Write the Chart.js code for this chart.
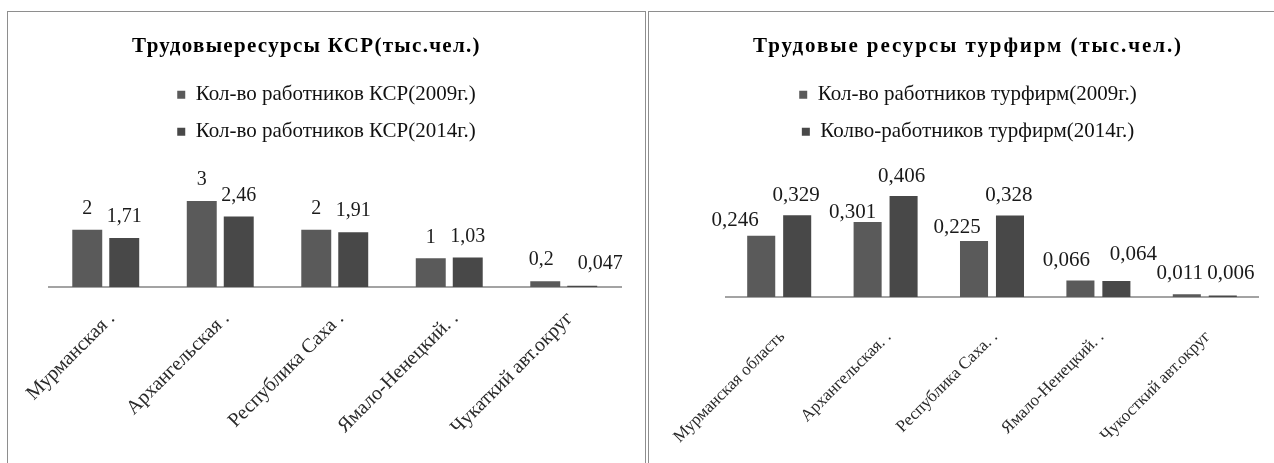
<!DOCTYPE html>
<html lang="ru">
<head>
<meta charset="utf-8">
<title>Трудовые ресурсы</title>
<script src="https://cdn.jsdelivr.net/npm/chart.js@4.4.1/dist/chart.umd.min.js"></script>
<style>
  html, body { margin: 0; padding: 0; background: #fff; overflow: hidden; }
  body { width: 1274px; height: 463px; position: relative; }
  .frame { position: absolute; border: 1.5px solid #8e8e8e; box-sizing: border-box; }
  .holder { position: absolute; }
</style>
</head>
<body>
<div class="frame" style="left:7px;top:11px;width:639px;height:480px;"></div>
<div class="frame" style="left:648px;top:11px;width:660px;height:480px;"></div>
<div class="holder" style="left:8px;top:12px;width:637px;height:452px;"><canvas id="ksr"></canvas></div>
<div class="holder" style="left:649px;top:12px;width:638px;height:452px;"><canvas id="tour"></canvas></div>
<script>
// Регионы (подписи оси X)
const ksrRegions = ['Мурманская .', 'Архангельская .', 'Республика Саха .', 'Ямало-Ненецкий. .', 'Чукаткий авт.округ'];
const tourRegions = ['Мурманская область', 'Архангельская. .', 'Республика Саха. .', 'Ямало-Ненецкий. .', 'Чукосткий авт.округ'];

// Численность работников КСР, тыс. чел.
const ksr2009 = [2, 3, 2, 1, 0.2];
const ksr2014 = [1.71, 2.46, 1.91, 1.03, 0.047];

// Численность работников турфирм, тыс. чел.
const tour2009 = [0.246, 0.301, 0.225, 0.066, 0.011];
const tour2014 = [0.329, 0.406, 0.328, 0.064, 0.006];

const SERIF = "'Liberation Serif', 'Times New Roman', serif";

// Разрядка и сдвиг заголовка диаграммы
const titleStyle = {
  id: 'titleStyle',
  afterLayout(chart, args, opts) {
    const block = chart.titleBlock;
    if (!block || block._styled) return;
    const draw = block.draw.bind(block);
    block.draw = function () {
      const ctx = chart.ctx;
      ctx.save();
      ctx.letterSpacing = opts.spacing + 'px';
      ctx.translate(opts.dx, 0);
      draw();
      ctx.restore();
    };
    block._styled = true;
  }
};

// Подписи значений над столбцами (десятичная запятая)
const valueLabels = {
  id: 'valueLabels',
  afterDatasetsDraw(chart, args, opts) {
    const ctx = chart.ctx;
    ctx.save();
    ctx.font = `${opts.size}px ${SERIF}`;
    ctx.fillStyle = '#1a1a1a';
    ctx.textAlign = 'center';
    ctx.textBaseline = 'middle';
    chart.data.datasets.forEach((ds, di) => {
      chart.getDatasetMeta(di).data.forEach((bar, i) => {
        const p = (opts.place && opts.place[di + '-' + i]) || [0, opts.lift];
        const txt = String(ds.data[i]).replace('.', ',');
        ctx.fillText(txt, bar.x + p[0], bar.y - p[1]);
      });
    });
    ctx.restore();
  }
};

function makeChart(id, labels, a, b, names, cfg) {
  const hiddenAxis = (w, pos) => ({
    position: pos, display: true,
    grid: { display: false }, border: { display: false }, ticks: { display: false },
    afterFit(scale) { scale.width = w; }
  });
  return new Chart(document.getElementById(id), {
    type: 'bar',
    data: {
      labels,
      datasets: [
        { label: names[0], data: a, backgroundColor: '#5a5a5a',
          categoryPercentage: cfg.cat, barPercentage: cfg.bar },
        { label: names[1], data: b, backgroundColor: '#484848',
          categoryPercentage: cfg.cat, barPercentage: cfg.bar }
      ]
    },
    options: {
      responsive: true,
      maintainAspectRatio: false,
      animation: false,
      layout: { padding: 0 },
      plugins: {
        title: {
          display: true, text: cfg.title, color: '#000',
          font: { family: SERIF, size: 21, weight: 'bold' },
          padding: { top: 22, bottom: 9 }
        },
        titleStyle: { spacing: cfg.titleSpacing, dx: cfg.titleDx },
        legend: {
          display: true, position: 'top',
          labels: {
            color: '#111', boxWidth: 8, boxHeight: 8, padding: 16,
            font: { family: SERIF, size: 21 }
          }
        },
        tooltip: { enabled: false },
        valueLabels: { size: cfg.valueSize, lift: 21, place: cfg.place }
      },
      scales: {
        x: {
          grid: { display: false },
          border: { display: true, color: '#a3a3a3', width: 2 },
          ticks: {
            color: '#2a2a2a', autoSkip: false, minRotation: 45, maxRotation: 45,
            font: { family: SERIF, size: cfg.tickSize },
            padding: cfg.tickPad, labelOffset: cfg.tickShift
          },
          afterFit(scale) {
            // подписи категорий могут выходить за левый край области построения
            scale.height = cfg.axisH;
            scale.paddingLeft = 0;
            scale.paddingRight = 0;
          }
        },
        y: Object.assign(hiddenAxis(cfg.left, 'left'), { min: 0, max: cfg.max }),
        yRight: Object.assign(hiddenAxis(cfg.right, 'right'), { min: 0, max: cfg.max })
      }
    },
    plugins: [titleStyle, valueLabels]
  });
}

makeChart('ksr', ksrRegions, ksr2009, ksr2014,
  ['Кол-во работников КСР(2009г.)', 'Кол-во работников КСР(2014г.)'],
  { title: 'Трудовыересурсы КСР(тыс.чел.)', titleSpacing: 1.3, titleDx: -20,
    cat: 0.646, bar: 0.81, left: 40.5, right: 24,
    max: 4.7, axisH: 177, tickSize: 20, tickPad: 12, tickShift: 6, valueSize: 20,
    place: { '0-4': [-4, 22], '1-4': [18, 22] } });

makeChart('tour', tourRegions, tour2009, tour2014,
  ['Кол-во работников турфирм(2009г.)', 'Колво-работников турфирм(2014г.)'],
  { title: 'Трудовые ресурсы турфирм (тыс.чел.)', titleSpacing: 1.9, titleDx: 0,
    cat: 0.676, bar: 0.78, left: 77, right: 29,
    max: 0.582, axisH: 167, tickSize: 17, tickPad: 22, tickShift: 3, valueSize: 21,
    place: {
      '0-0': [-26, 15], '0-1': [-15, 10], '0-2': [-17, 14], '0-3': [-14, 20], '0-4': [-7, 21],
      '1-0': [-1, 20], '1-1': [-2, 20], '1-2': [-1, 20], '1-3': [17, 27], '1-4': [8, 22]
    } });
</script>
</body>
</html>
